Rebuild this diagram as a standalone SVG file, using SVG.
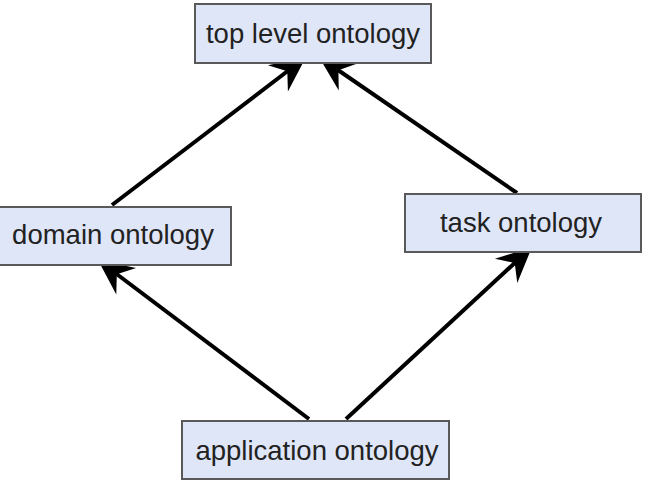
<svg xmlns="http://www.w3.org/2000/svg" width="645" height="482" viewBox="0 0 645 482">
<style>
.box{fill:#dfe6f8;stroke:#595959;stroke-width:2}
.lbl{font-family:"Liberation Sans",Arial,sans-serif;font-size:27.5px;fill:#222;text-anchor:middle}
.edge{stroke:#000;stroke-width:4;fill:none}
</style>
<defs>
<marker id="ah" markerUnits="userSpaceOnUse" markerWidth="40" markerHeight="40" viewBox="-32 -16 34 32" refX="0" refY="0" orient="auto">
<path d="M0,0 L-30,-14 L-20,0 L-30,14 Z" fill="#000"/>
</marker>
</defs>
<rect width="645" height="482" fill="#fff"/>
<g id="connectors">
<line class="edge" x1="112" y1="205" x2="306" y2="57" marker-end="url(#ah)"/>
<line class="edge" x1="517" y1="193" x2="319" y2="57" marker-end="url(#ah)"/>
<line class="edge" x1="309" y1="419" x2="98" y2="260" marker-end="url(#ah)"/>
<line class="edge" x1="346" y1="419" x2="532" y2="247" marker-end="url(#ah)"/>
</g>
<g id="top">
<rect class="box" x="195" y="4" width="236" height="59"/>
<text class="lbl" x="313" y="43">top level ontology</text>
</g>
<g id="domain">
<rect class="box" x="-1" y="207" width="232" height="58"/>
<text class="lbl" x="113" y="244">domain ontology</text>
</g>
<g id="task">
<rect class="box" x="405" y="194" width="236" height="58"/>
<text class="lbl" x="521" y="232">task ontology</text>
</g>
<g id="application">
<rect class="box" x="182" y="421" width="267" height="58"/>
<text class="lbl" x="317" y="460">application ontology</text>
</g>
</svg>
